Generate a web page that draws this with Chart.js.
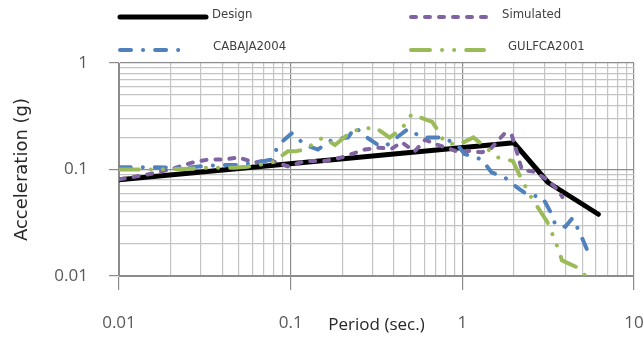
<!DOCTYPE html>
<html>
<head>
<meta charset="utf-8">
<script src="https://cdn.jsdelivr.net/npm/chart.js@4.4.1/dist/chart.umd.min.js"></script>
<style>
  html, body { margin: 0; padding: 0; background: #fff; }
  canvas { display: block; }
</style>
</head>
<body>
<canvas id="spectrum" width="644" height="338"></canvas>
<script>
// Response spectra - periods (sec.) and spectral acceleration (g)
const designT = [0.01, 2.0, 3.16, 6.2]
const designSa = [0.08, 0.178, 0.0755, 0.038]

const simulatedT = [0.0101, 0.0148, 0.0198, 0.0266, 0.033, 0.0414, 0.0494, 0.0618, 0.0739, 0.0964,
  0.121, 0.158, 0.198, 0.228, 0.271, 0.323, 0.388, 0.443, 0.528, 0.607, 0.721, 0.868, 0.965,
  1.07, 1.30, 1.48, 1.77, 1.94, 2.08, 2.22, 2.64, 3.13, 3.58, 3.83]
const simulatedSa = [0.081, 0.09, 0.1, 0.116, 0.124, 0.124, 0.13, 0.116, 0.124, 0.107,
  0.12, 0.12, 0.13, 0.14, 0.154, 0.16, 0.157, 0.18, 0.148, 0.19, 0.17, 0.154, 0.145,
  0.15, 0.145, 0.16, 0.22, 0.21, 0.145, 0.10, 0.095, 0.08, 0.065, 0.055]

const cabajaT = [0.0101, 0.0151, 0.0204, 0.0252, 0.0317, 0.0398, 0.0473, 0.0595, 0.0779, 0.0846,
  0.102, 0.121, 0.144, 0.174, 0.216, 0.237, 0.278, 0.323, 0.355, 0.482, 0.581, 0.787, 0.868,
  0.965, 1.03, 1.30, 1.48, 1.77, 2.08, 2.39, 2.93, 3.26, 3.49, 3.98, 4.38, 4.81, 5.30]
const cabajaSa = [0.105, 0.105, 0.104, 0.104, 0.108, 0.11, 0.11, 0.114, 0.124, 0.17,
  0.22, 0.17, 0.154, 0.19, 0.2, 0.25, 0.2, 0.17, 0.165, 0.24, 0.2, 0.2, 0.18,
  0.16, 0.14, 0.124, 0.094, 0.084, 0.068, 0.058, 0.055, 0.04, 0.03, 0.029, 0.035, 0.026, 0.018]

const gulfcaT = [0.0101, 0.0151, 0.0193, 0.0233, 0.033, 0.0473, 0.0563, 0.0779, 0.0964, 0.106,
  0.121, 0.154, 0.181, 0.228, 0.309, 0.377, 0.443, 0.507, 0.667, 0.70, 0.787, 0.944,
  1.16, 1.61, 1.97, 2.22, 2.50, 3.13, 3.49, 3.81, 4.69, 5.23]
const gulfcaSa = [0.10, 0.10, 0.101, 0.101, 0.104, 0.104, 0.106, 0.116, 0.148, 0.148,
  0.154, 0.2, 0.17, 0.23, 0.25, 0.2, 0.24, 0.33, 0.28, 0.25, 0.18, 0.17,
  0.2, 0.13, 0.12, 0.08, 0.056, 0.032, 0.021, 0.014, 0.012, 0.01]

const xDecades = [0.01, 0.1, 1, 10]
const xTickLabels = ['0.01', '0.1', '1', '10']
const yDecades = [0.01, 0.1, 1]
const yTickLabels = ['0.01', '0.1', '1']

const seriesNames = ['Design', 'Simulated', 'CABAJA2004', 'GULFCA2001']

const COLORS = {
  design: '#000000',
  simulated: '#8064A2',
  cabaja: '#4F81BD',
  gulfca: '#9BBB59',
  gridMajor: '#8c8c8c',
  gridMinor: '#c4c4c4',
  tick: '#595959',
  title: '#262626'
}

const toPoints = (xs, ys) => xs.map((x, i) => ({ x, y: ys[i] }))

// log ticks 1..9 per decade, majors on the decades
function logTicks(decades) {
  const ticks = []
  decades.forEach((d, i) => {
    ticks.push({ value: d, major: true })
    if (i < decades.length - 1) {
      for (let m = 2; m <= 9; m++) ticks.push({ value: m * d, major: false })
    }
  })
  return ticks
}

function labelFor(decades, labels) {
  return (value, index, ticks) => {
    if (!ticks[index].major) return ''
    const k = decades.findIndex(d => Math.abs(d - value) < d * 1e-6)
    return k >= 0 ? labels[k] : ''
  }
}

const gridColor = (ctx) => (ctx.tick && ctx.tick.major ? COLORS.gridMajor : COLORS.gridMinor)
const tickMarkColor = (ctx) => (ctx.tick && ctx.tick.major ? COLORS.gridMajor : 'rgba(0,0,0,0)')

// legend drawn as a 2x2 block like the spreadsheet original
const legendBlock = {
  id: 'legendBlock',
  afterDraw(chart) {
    const c = chart.ctx
    const items = [
      { ds: 0, x1: 120, x2: 206, y: 17, tx: 212, ty: 15 },
      { ds: 1, x1: 411, x2: 494, y: 17, tx: 502, ty: 15 },
      { ds: 2, x1: 120, x2: 187, y: 50, tx: 213, ty: 47 },
      { ds: 3, x1: 411, x2: 484, y: 50, tx: 508, ty: 47 }
    ]
    c.save()
    items.forEach(it => {
      const ds = chart.data.datasets[it.ds]
      c.beginPath()
      c.strokeStyle = ds.borderColor
      c.lineWidth = ds.borderWidth
      c.lineCap = ds.borderCapStyle || 'butt'
      c.setLineDash(ds.borderDash || [])
      c.moveTo(it.x1, it.y)
      c.lineTo(it.x2, it.y)
      c.stroke()
      c.setLineDash([])
      c.fillStyle = '#404040'
      c.font = '13px "DejaVu Sans Condensed", "Liberation Sans Narrow", sans-serif'
      c.textBaseline = 'middle'
      c.textAlign = 'left'
      c.fillText(ds.label, it.tx, it.ty)
    })
    c.restore()
  }
}

const canvas = document.getElementById('spectrum')

new Chart(canvas, {
  type: 'line',
  data: {
    datasets: [
      {
        label: seriesNames[0],
        data: toPoints(designT, designSa),
        borderColor: COLORS.design,
        borderWidth: 5,
        borderCapStyle: 'round',
        borderJoinStyle: 'round',
        order: 4
      },
      {
        label: seriesNames[1],
        data: toPoints(simulatedT, simulatedSa),
        borderColor: COLORS.simulated,
        borderWidth: 4,
        borderDash: [5, 9],
        borderCapStyle: 'round',
        order: 3
      },
      {
        label: seriesNames[2],
        data: toPoints(cabajaT, cabajaSa),
        borderColor: COLORS.cabaja,
        borderWidth: 4,
        borderDash: [11, 12, 0.1, 12],
        borderCapStyle: 'round',
        order: 2
      },
      {
        label: seriesNames[3],
        data: toPoints(gulfcaT, gulfcaSa),
        borderColor: COLORS.gulfca,
        borderWidth: 4,
        borderDash: [19, 12, 0.1, 12, 0.1, 12],
        borderCapStyle: 'round',
        order: 1
      }
    ]
  },
  options: {
    responsive: false,
    animation: false,
    elements: { point: { radius: 0 }, line: { tension: 0 } },
    layout: { padding: { top: 63, right: 10, left: 0, bottom: 0 }, autoPadding: false },
    plugins: {
      legend: { display: false },
      tooltip: { enabled: false }
    },
    scales: {
      x: {
        type: 'logarithmic',
        position: 'bottom',
        min: 0.01,
        max: 10,
        afterBuildTicks: (scale) => { scale.ticks = logTicks(xDecades) },
        afterFit: (scale) => {
          scale.height = 62
          scale.paddingLeft = 0
          scale.paddingRight = 0
        },
        border: { display: true, color: COLORS.gridMajor, width: 1 },
        grid: {
          color: gridColor,
          tickColor: tickMarkColor,
          lineWidth: 1.2,
          tickLength: 14
        },
        ticks: {
          autoSkip: false,
          maxRotation: 0,
          padding: 23,
          color: COLORS.tick,
          font: { family: '"Open Sans", sans-serif', size: 17 },
          callback: labelFor(xDecades, xTickLabels)
        },
        title: {
          display: true,
          text: 'Period (sec.)',
          color: COLORS.title,
          font: { family: '"Open Sans", sans-serif', size: 17 },
          padding: { top: 0, bottom: 3 }
        }
      },
      y: {
        type: 'logarithmic',
        min: 0.01,
        max: 1,
        afterBuildTicks: (scale) => { scale.ticks = logTicks(yDecades) },
        afterFit: (scale) => {
          scale.width = 119
          scale.paddingTop = 0
          scale.paddingBottom = 0
        },
        border: { display: true, color: COLORS.gridMajor, width: 1 },
        grid: {
          color: gridColor,
          tickColor: tickMarkColor,
          lineWidth: 1.2,
          tickLength: 10
        },
        ticks: {
          autoSkip: false,
          padding: 21,
          color: COLORS.tick,
          font: { family: '"Open Sans", sans-serif', size: 17 },
          callback: labelFor(yDecades, yTickLabels)
        },
        title: {
          display: true,
          text: 'Acceleration (g)',
          color: COLORS.title,
          font: { family: '"DejaVu Sans", sans-serif', size: 18 },
          padding: { top: 12, bottom: 0 }
        }
      }
    }
  },
  plugins: [legendBlock]
})
</script>
</body>
</html>
